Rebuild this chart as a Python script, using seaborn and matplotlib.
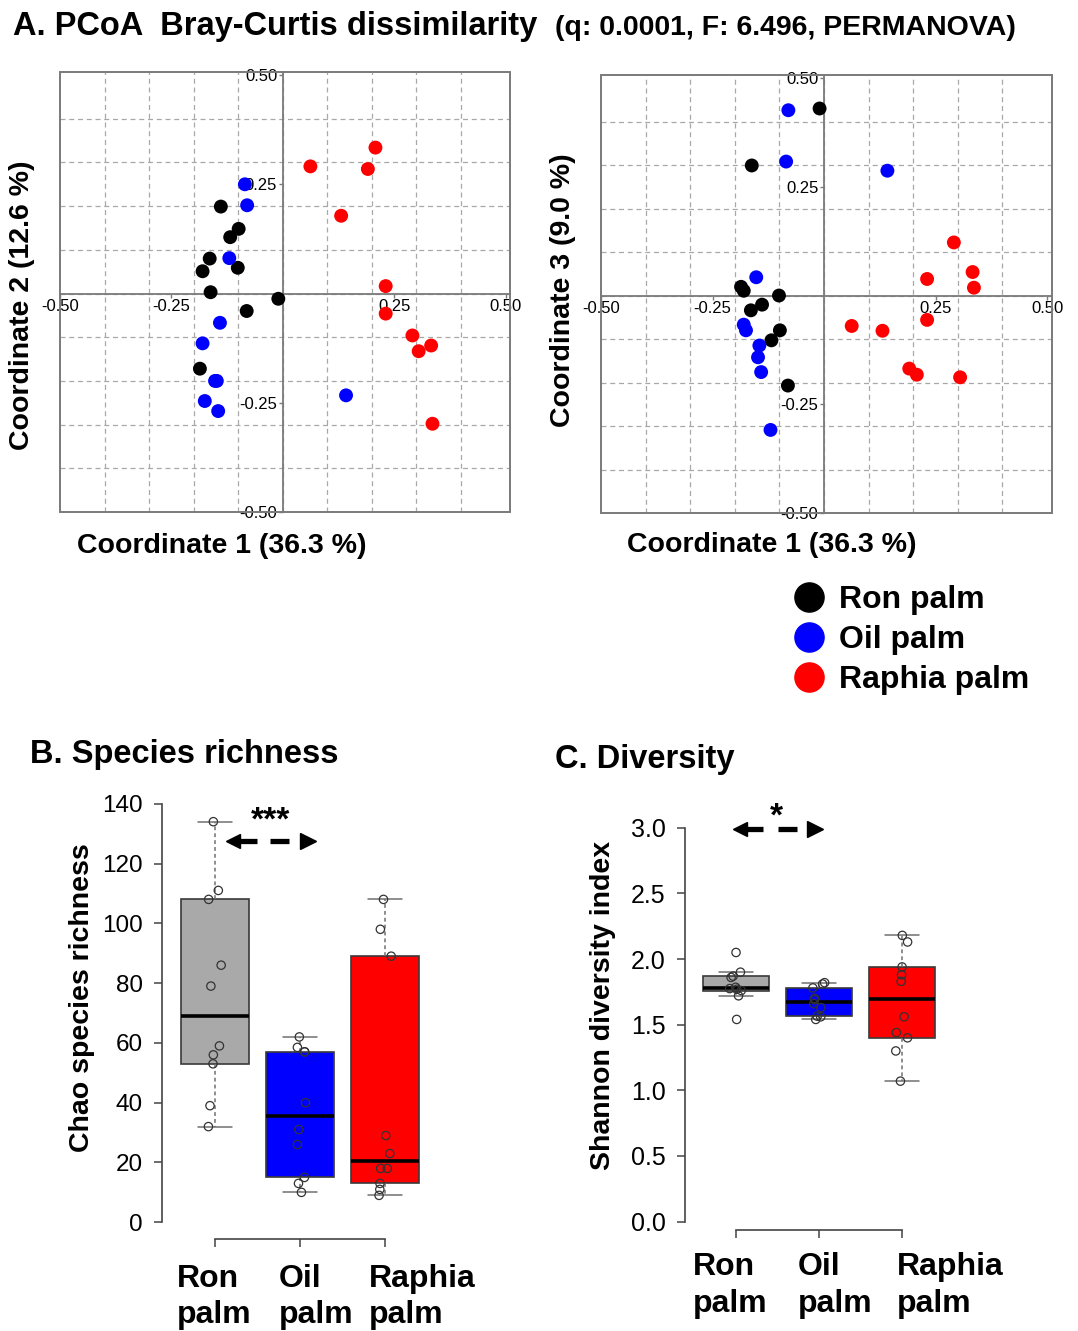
import numpy as np
import pandas as pd
import matplotlib
matplotlib.use("Agg")
import matplotlib.pyplot as plt
from matplotlib.lines import Line2D
from matplotlib.patches import Rectangle
from matplotlib.ticker import MultipleLocator, FixedLocator
import seaborn as sns

# ---------------- data ----------------
groups = ["Ron palm", "Oil palm", "Raphia palm"]
point_colors = ["#000000", "#0000FF", "#FF0000"]
box_colors = ["#A9A9A9", "#0000FF", "#FF0000"]

# PCoA coordinates (Bray-Curtis)
ron_c1 = [-0.186, -0.180, -0.164, -0.162, -0.139, -0.118, -0.101, -0.099, -0.081, -0.010]
ron_c2 = [-0.172, 0.051, 0.080, 0.003, 0.199, 0.129, 0.059, 0.148, -0.040, -0.012]
ron_c3 = [0.020, 0.011, -0.034, 0.299, -0.021, -0.103, 0.000, -0.080, -0.207, 0.430]

oil_c1 = [-0.180, -0.175, -0.152, -0.148, -0.145, -0.141, -0.120, -0.085, -0.080, 0.142]
oil_c2 = [-0.114, -0.246, -0.200, -0.200, -0.269, -0.067, 0.081, 0.250, 0.202, -0.233]
oil_c3 = [-0.067, -0.080, 0.042, -0.142, -0.115, -0.176, -0.309, 0.308, 0.426, 0.287]

raphia_c1 = [0.062, 0.131, 0.191, 0.208, 0.231, 0.231, 0.291, 0.305, 0.333, 0.336]
raphia_c2 = [0.291, 0.178, 0.285, 0.334, 0.017, -0.046, -0.096, -0.132, -0.119, -0.298]
raphia_c3 = [-0.070, -0.081, -0.168, -0.182, 0.038, -0.056, 0.122, -0.188, 0.054, 0.018]

# Chao species richness
ron_chao = [134, 111, 108, 86, 79, 59, 56, 53, 39, 32]
oil_chao = [62, 58.5, 57, 57, 40, 31, 26, 15, 13, 10]
raphia_chao = [108, 98, 89, 29, 23, 18, 18, 13, 11, 9]

# Shannon diversity index
ron_shannon = [2.05, 1.90, 1.87, 1.86, 1.785, 1.775, 1.77, 1.76, 1.72, 1.54]
oil_shannon = [1.82, 1.81, 1.78, 1.70, 1.69, 1.66, 1.63, 1.565, 1.56, 1.54]
raphia_shannon = [2.18, 2.13, 1.94, 1.88, 1.83, 1.56, 1.44, 1.40, 1.30, 1.07]

chao_yticks = [0, 20, 40, 60, 80, 100, 120, 140]
shannon_yticks = [0.0, 0.5, 1.0, 1.5, 2.0, 2.5, 3.0]
pcoa_ticks = [-0.5, -0.25, 0.25, 0.5]

pcoa = pd.DataFrame({
    "group": np.repeat(groups, [len(ron_c1), len(oil_c1), len(raphia_c1)]),
    "c1": ron_c1 + oil_c1 + raphia_c1,
    "c2": ron_c2 + oil_c2 + raphia_c2,
    "c3": ron_c3 + oil_c3 + raphia_c3,
})
alpha = pd.DataFrame({
    "group": np.repeat(groups, [len(ron_chao), len(oil_chao), len(raphia_chao)]),
    "chao": ron_chao + oil_chao + raphia_chao,
    "shannon": ron_shannon + oil_shannon + raphia_shannon,
})

# ---------------- style ----------------
sns.set_style("white")
plt.rcParams["font.family"] = ["Liberation Sans", "DejaVu Sans"]
plt.rcParams["axes.unicode_minus"] = False
plt.rcParams["text.color"] = "black"
plt.rcParams["axes.labelcolor"] = "black"
plt.rcParams["xtick.color"] = "black"
plt.rcParams["ytick.color"] = "black"

W, H = 1078, 1331
fig = plt.figure(figsize=(W / 100, H / 100), dpi=100)


def fx(px):
    return px / W


def fy(py):
    return 1 - py / H


def add_ax(l, t, r, b):
    return fig.add_axes([fx(l), fy(b), (r - l) / W, (b - t) / H])


# ---------------- PCoA panels ----------------
def pcoa_panel(ax, ycol, xlim, ylim):
    ax.set_axisbelow(True)
    sns.scatterplot(data=pcoa, x="c1", y=ycol, hue="group", hue_order=groups,
                    palette=point_colors, s=100, edgecolor="none", linewidth=0,
                    legend=False, ax=ax, zorder=3)
    ax.set_xlim(xlim)
    ax.set_ylim(ylim)
    for s in ["top", "right"]:
        ax.spines[s].set_visible(False)
    ax.spines["left"].set_position("zero")
    ax.spines["bottom"].set_position("zero")
    for s in ["left", "bottom"]:
        ax.spines[s].set_color("#7a7a7a")
        ax.spines[s].set_linewidth(1.3)
    ax.add_patch(Rectangle((0, 0), 1, 1, transform=ax.transAxes, fill=False,
                           ec="#7a7a7a", lw=1.4, clip_on=False, zorder=4))
    ax.xaxis.set_major_locator(FixedLocator(pcoa_ticks))
    ax.yaxis.set_major_locator(FixedLocator(pcoa_ticks))
    ax.set_xticklabels([f"{t:.2f}" for t in pcoa_ticks])
    ax.set_yticklabels([f"{t:.2f}" for t in pcoa_ticks])
    ax.xaxis.set_minor_locator(MultipleLocator(0.1))
    ax.yaxis.set_minor_locator(MultipleLocator(0.1))
    ax.tick_params(which="major", length=3, width=1, color="#7a7a7a",
                   labelsize=12, labelcolor="black", pad=1, bottom=True, left=True)
    ax.tick_params(which="minor", length=0)
    ax.grid(False, which="major")
    ax.grid(True, which="minor", linestyle=(0, (4, 3)), color="#a8a8a8", lw=0.9)
    ax.set_xlabel("")
    ax.set_ylabel("")


ax1 = add_ax(60, 72, 510, 512)
pcoa_panel(ax1, "c2", (-0.5, 0.51), (-0.5, 0.507))
ax2 = add_ax(601, 75, 1052, 513)
pcoa_panel(ax2, "c3", (-0.5, 0.511), (-0.5, 0.507))

fig.text(fx(13), fy(35), "A. PCoA  Bray-Curtis dissimilarity", fontsize=23.5,
         fontweight="bold", ha="left", va="baseline")
fig.text(fx(555), fy(35), "(q: 0.0001, F: 6.496, PERMANOVA)", fontsize=20.5,
         fontweight="bold", ha="left", va="baseline")

fig.text(fx(222), fy(546), "Coordinate 1 (36.3 %)", fontsize=20.5, fontweight="bold",
         ha="center", va="center")
fig.text(fx(772), fy(545), "Coordinate 1 (36.3 %)", fontsize=20.5, fontweight="bold",
         ha="center", va="center")
fig.text(fx(22), fy(305), "Coordinate 2 (12.6 %)", fontsize=20.5, fontweight="bold",
         ha="center", va="center", rotation=90)
fig.text(fx(563), fy(290), "Coordinate 3 (9.0 %)", fontsize=20.5, fontweight="bold",
         ha="center", va="center", rotation=90)

handles = [Line2D([], [], marker="o", ls="", color=c, markersize=21) for c in point_colors]
fig.legend(handles, groups, loc="upper left", bbox_to_anchor=(fx(793), fy(585)),
           frameon=False, prop={"weight": "bold", "size": 23}, handlelength=1.0,
           handletextpad=0.45, labelspacing=0.32, borderpad=0, borderaxespad=0)


# ---------------- box panels ----------------
def tukey_stats(vals):
    v = np.sort(np.asarray(vals, float))
    n = len(v)
    n4 = np.floor((n + 3) / 2) / 2
    d = np.array([1, n4, (n + 1) / 2, n + 1 - n4, n]) - 1
    five = 0.5 * (v[np.floor(d).astype(int)] + v[np.ceil(d).astype(int)])
    q1, med, q3 = five[1], five[2], five[3]
    iqr = q3 - q1
    hi = v[v <= q3 + 1.5 * iqr].max()
    lo = v[v >= q1 - 1.5 * iqr].min()
    return dict(med=med, q1=q1, q3=q3, whislo=lo, whishi=hi, fliers=[])


def box_panel(ax, col, series, ylim, yticks, fmt, lsize, lpad):
    stats = [tukey_stats(s) for s in series]
    bp = ax.bxp(stats, positions=[0, 1, 2], widths=0.8, patch_artist=True,
                showfliers=False, capwidths=0.4, manage_ticks=False,
                boxprops=dict(edgecolor="#3a3a3a", linewidth=1.2),
                whiskerprops=dict(color="#707070", linewidth=1.1, linestyle=(0, (2.5, 2))),
                capprops=dict(color="#707070", linewidth=1.1),
                medianprops=dict(color="black", linewidth=2.6))
    for patch, c in zip(bp["boxes"], box_colors):
        patch.set_facecolor(c)
    n0 = len(ax.collections)
    sns.stripplot(data=alpha, x="group", y=col, order=groups, jitter=0.08, size=6,
                  color="#333333", edgecolor="#333333", linewidth=0.9, ax=ax, zorder=5)
    for coll in ax.collections[n0:]:
        coll.set_facecolor("none")
        coll.set_edgecolor("#333333")
    ax.set_xlim(-0.62, 2.62)
    ax.set_ylim(ylim)
    ax.set_xticks([0, 1, 2])
    ax.set_xticklabels(["", "", ""])
    ax.set_yticks(yticks)
    ax.set_yticklabels([fmt.format(t) for t in yticks])
    for s in ["top", "right"]:
        ax.spines[s].set_visible(False)
    for s in ["left", "bottom"]:
        ax.spines[s].set_color("#444444")
        ax.spines[s].set_linewidth(1.2)
    ax.spines["left"].set_bounds(yticks[0], yticks[-1])
    ax.spines["bottom"].set_bounds(0, 2)
    ax.tick_params(axis="both", direction="out", length=6, width=1.1, color="#444444",
                   labelcolor="black", bottom=True, left=True)
    ax.tick_params(axis="y", labelsize=lsize, pad=lpad)
    ax.set_xlabel("")
    ax.set_ylabel("")


axB = add_ax(162, 787, 438, 1239)
box_panel(axB, "chao", [ron_chao, oil_chao, raphia_chao], (-5.6, 145.6),
          chao_yticks, "{:d}", 17.5, 8)
axC = add_ax(684.5, 812, 953.5, 1229.5)
box_panel(axC, "shannon", [ron_shannon, oil_shannon, raphia_shannon], (-0.06, 3.12),
          shannon_yticks, "{:.1f}", 18, 7.5)


def sig_arrow(ax, y, head_x, shaft, dash, tri_x, star_x, star_y, star):
    ax.plot([head_x], [y], marker="<", ms=10, color="black", clip_on=False, zorder=6)
    ax.plot(shaft, [y, y], color="black", lw=3.8, solid_capstyle="butt", clip_on=False, zorder=6)
    ax.plot(dash, [y, y], color="black", lw=3.8, solid_capstyle="butt", clip_on=False, zorder=6)
    ax.plot([tri_x], [y], marker=">", ms=11, color="black", clip_on=False, zorder=6)
    ax.text(star_x, star_y, star, fontsize=24, fontweight="bold", ha="center",
            va="baseline", clip_on=False)


sig_arrow(axB, 127.6, 0.212, [0.247, 0.494], [0.647, 0.871], 1.094, 0.65, 131.3, "***")
sig_arrow(axC, 2.99, 0.046, [0.124, 0.329], [0.51, 0.739], 0.955, 0.486, 3.02, "*")

fig.text(fx(30), fy(763), "B. Species richness", fontsize=23.5, fontweight="bold",
         ha="left", va="baseline")
fig.text(fx(555), fy(768), "C. Diversity", fontsize=23.5, fontweight="bold",
         ha="left", va="baseline")
fig.text(fx(82), fy(998), "Chao species richness", fontsize=20.5, fontweight="bold",
         ha="center", va="center", rotation=90)
fig.text(fx(603), fy(1005), "Shannon diversity index", fontsize=20.5, fontweight="bold",
         ha="center", va="center", rotation=90)

# category labels
b_left = [177, 279, 369]
c_left = [693, 798, 897]
first_words = [g.split()[0] for g in groups]
second_words = [g.split()[1] for g in groups]
for xl, w1, w2 in zip(b_left, first_words, second_words):
    fig.text(fx(xl), fy(1287), w1, fontsize=23, fontweight="bold", ha="left", va="baseline")
    fig.text(fx(xl), fy(1323), w2, fontsize=23, fontweight="bold", ha="left", va="baseline")
for xl, w1, w2 in zip(c_left, first_words, second_words):
    fig.text(fx(xl), fy(1275), w1, fontsize=23, fontweight="bold", ha="left", va="baseline")
    fig.text(fx(xl), fy(1312), w2, fontsize=23, fontweight="bold", ha="left", va="baseline")

fig.savefig("out.png", dpi=100)
